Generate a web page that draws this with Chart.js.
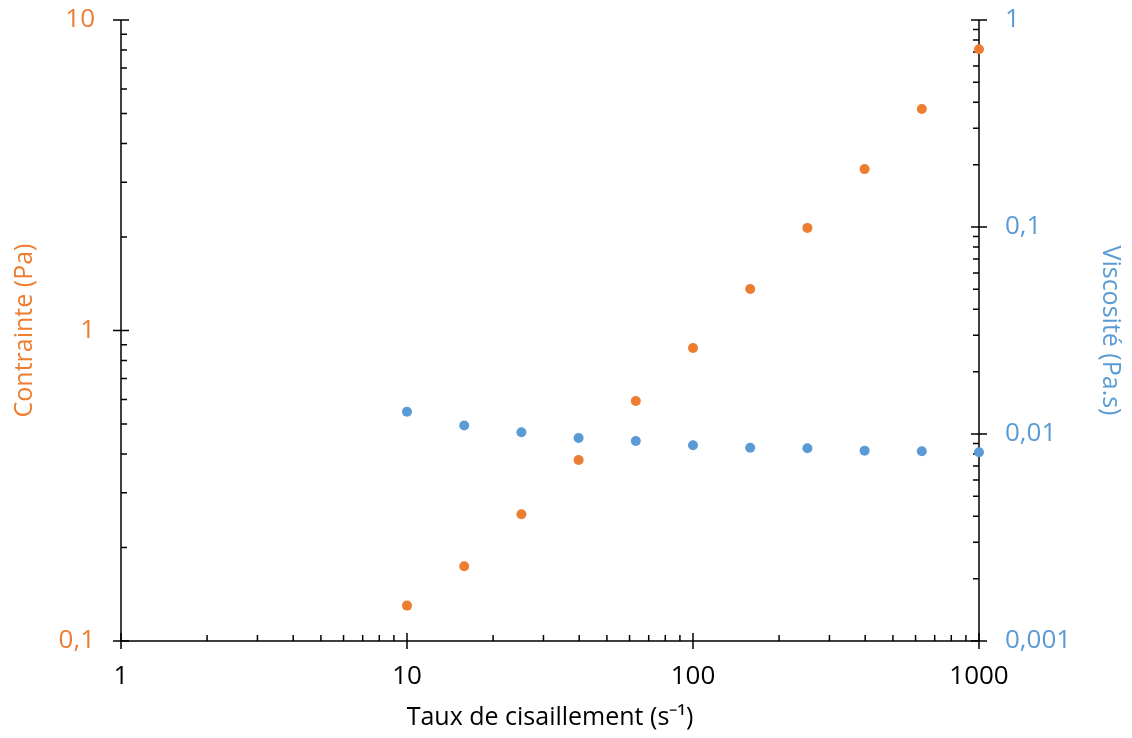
<!DOCTYPE html>
<html>
<head>
<meta charset="utf-8">
<script src="https://cdn.jsdelivr.net/npm/chart.js@4.4.1/dist/chart.umd.min.js"></script>
<style>
html, body { margin: 0; padding: 0; background: #fff; }
#wrap { width: 1132px; height: 738px; }
</style>
</head>
<body>
<div id="wrap"><canvas id="myChart"></canvas></div>
<script>
/* DATA */
var shearRate = [10, 15.85, 25.12, 39.81, 63.1, 100, 158.5, 251.2, 398.1, 631, 1000];
var stress = [0.13, 0.174, 0.256, 0.383, 0.593, 0.878, 1.36, 2.14, 3.31, 5.17, 8.05];
var viscosity = [0.0128, 0.0110, 0.0102, 0.00956, 0.00925, 0.00882, 0.00859, 0.00853, 0.00831, 0.00825, 0.00816];

var xTicks = [1, 10, 100, 1000];
var xTickLabels = ['1', '10', '100', '1000'];
var stressTicks = [0.1, 1, 10];
var stressTickLabels = ['0,1', '1', '10'];
var viscTicks = [0.001, 0.01, 0.1, 1];
var viscTickLabels = ['0,001', '0,01', '0,1', '1'];

var ORANGE = '#ED7D31';
var BLUE = '#5B9BD5';

function toPoints(xs, ys) {
	var pts = [];
	for (var i = 0; i < xs.length; i++) pts.push({x: xs[i], y: ys[i]});
	return pts;
}

function fixedTicks(values) {
	return function(scale) {
		scale.ticks = values.map(function(v) { return {value: v}; });
	};
}

function tickLabel(values, labels) {
	return function(value) {
		var i = values.indexOf(value);
		return i >= 0 ? labels[i] : '';
	};
}

// grid hidden; the tick length is only used to push labels away from the axis
function labelGap(len) {
	return { display: false, drawTicks: true, tickLength: len };
}

/* AXES drawn Excel style: major ticks cross, minor ticks inside */
var excelAxes = {
	id: 'excelAxes',
	beforeDatasetsDraw: function(chart) {
		var ctx = chart.ctx;
		var a = chart.chartArea;
		var major = 8, minor = 6;
		ctx.save();
		ctx.strokeStyle = '#000';
		ctx.lineWidth = 1.5;

		function minors(min, max) {
			var out = [];
			for (var d = min; d < max * 0.999; d *= 10) {
				for (var m = 2; m <= 9; m++) out.push(m * d);
			}
			return out;
		}

		// x axis
		var sx = chart.scales.x;
		ctx.beginPath();
		ctx.moveTo(a.left, a.bottom); ctx.lineTo(a.right, a.bottom);
		xTicks.forEach(function(v) {
			var p = sx.getPixelForValue(v);
			ctx.moveTo(p, a.bottom - major); ctx.lineTo(p, a.bottom + major);
		});
		minors(sx.min, sx.max).forEach(function(v) {
			var p = sx.getPixelForValue(v);
			ctx.moveTo(p, a.bottom); ctx.lineTo(p, a.bottom - minor);
		});
		ctx.stroke();

		// left axis
		var sl = chart.scales.yStress;
		ctx.beginPath();
		ctx.moveTo(a.left, a.top); ctx.lineTo(a.left, a.bottom);
		stressTicks.forEach(function(v) {
			var p = sl.getPixelForValue(v);
			ctx.moveTo(a.left - major, p); ctx.lineTo(a.left + major, p);
		});
		minors(sl.min, sl.max).forEach(function(v) {
			var p = sl.getPixelForValue(v);
			ctx.moveTo(a.left, p); ctx.lineTo(a.left + minor, p);
		});
		ctx.stroke();

		// right axis
		var sr = chart.scales.yVisc;
		ctx.beginPath();
		ctx.moveTo(a.right, a.top); ctx.lineTo(a.right, a.bottom);
		viscTicks.forEach(function(v) {
			var p = sr.getPixelForValue(v);
			ctx.moveTo(a.right - major, p); ctx.lineTo(a.right + major, p);
		});
		minors(sr.min, sr.max).forEach(function(v) {
			var p = sr.getPixelForValue(v);
			ctx.moveTo(a.right, p); ctx.lineTo(a.right - minor, p);
		});
		ctx.stroke();
		ctx.restore();
	}
};

Chart.defaults.font.family = "'Open Sans', sans-serif";
Chart.defaults.font.size = 26;

var titleFont = { size: 25 };

var ctxChart = document.getElementById('myChart').getContext('2d');
var myChart = new Chart(ctxChart, {
	type: 'scatter',
	data: {
		datasets: [{
			label: 'Contrainte',
			data: toPoints(shearRate, stress),
			yAxisID: 'yStress',
			backgroundColor: ORANGE,
			borderWidth: 0,
			pointRadius: 5,
			clip: false
		}, {
			label: 'Viscosité',
			data: toPoints(shearRate, viscosity),
			yAxisID: 'yVisc',
			backgroundColor: BLUE,
			borderWidth: 0,
			pointRadius: 5,
			clip: false
		}]
	},
	options: {
		responsive: true,
		maintainAspectRatio: false,
		animation: false,
		layout: { padding: { top: 20, left: 0, right: 0, bottom: 0 } },
		plugins: {
			legend: { display: false },
			tooltip: { enabled: false }
		},
		scales: {
			x: {
				type: 'logarithmic',
				min: 1,
				max: 1000,
				afterBuildTicks: fixedTicks(xTicks),
				afterFit: function(s) { s.height = 97; },
				grid: labelGap(20),
				border: { display: false },
				ticks: {
					color: '#000',
					padding: 0,
					maxRotation: 0,
					autoSkip: false,
					callback: tickLabel(xTicks, xTickLabels)
				},
				title: {
					display: true,
					text: 'Taux de cisaillement (s⁻¹)',
					color: '#000',
					font: titleFont,
					padding: { top: 0, bottom: 5 }
				}
			},
			yStress: {
				type: 'logarithmic',
				position: 'left',
				min: 0.1,
				max: 10,
				afterBuildTicks: fixedTicks(stressTicks),
				afterFit: function(s) { s.width = 121; },
				grid: labelGap(26),
				border: { display: false },
				ticks: {
					color: ORANGE,
					padding: 0,
					autoSkip: false,
					callback: tickLabel(stressTicks, stressTickLabels)
				},
				title: {
					display: true,
					text: 'Contrainte (Pa)',
					color: ORANGE,
					font: titleFont,
					padding: { top: 10, bottom: 0 }
				}
			},
			yVisc: {
				type: 'logarithmic',
				position: 'right',
				min: 0.001,
				max: 1,
				afterBuildTicks: fixedTicks(viscTicks),
				afterFit: function(s) { s.width = 153; },
				grid: labelGap(26),
				border: { display: false },
				ticks: {
					color: BLUE,
					padding: 0,
					autoSkip: false,
					callback: tickLabel(viscTicks, viscTickLabels)
				},
				title: {
					display: true,
					text: 'Viscosité (Pa.s)',
					color: BLUE,
					font: titleFont,
					padding: { top: 7, bottom: 0 }
				}
			}
		}
	},
	plugins: [excelAxes]
});
</script>
</body>
</html>
